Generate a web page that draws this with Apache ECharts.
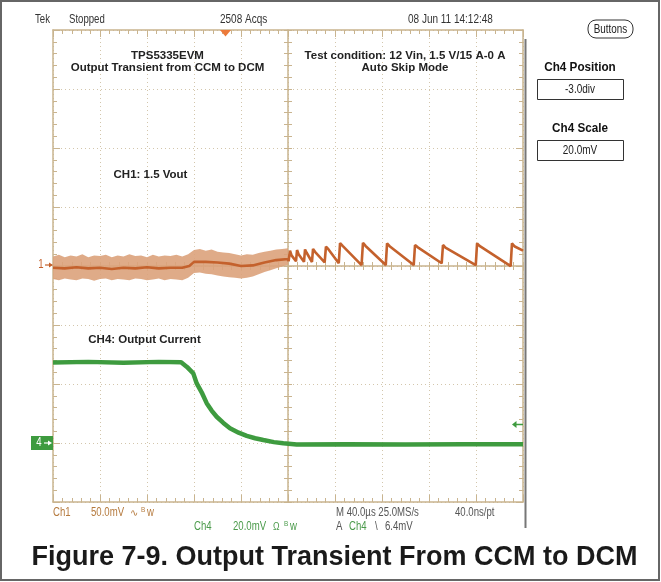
<!DOCTYPE html>
<html><head><meta charset="utf-8">
<script src="https://cdn.jsdelivr.net/npm/echarts@6/dist/echarts.min.js"></script>
<style>html,body{margin:0;padding:0;background:#fff}#c{width:661px;height:582px}</style>
</head><body><div id="c"></div>
<script>
// ---- Data (time in µs, values in mV) ----
const ch1ScaleMv = 50;     // mV/div
const ch1PosDiv = 0;
const ch4ScaleMv = 20;     // mV/div
const ch4PosDiv = -3;

// noise envelope of CH1 in the CCM part (every 5 µs)
const envTime  = [-200,-195,-190,-185,-180,-175,-170,-165,-160,-155,-150,-145,-140,-135,-130,-125,-120,-115,-110,-105,-100,-95,-90,-85,-80,-75,-70,-65,-60,-55,-50,-45,-40,-35,-30,-25,-20,-15,-10,-5,0];
const ch1Upper = [8,9.5,7.5,9,8,10,7.5,9,8.5,9.5,7.5,9,8,10,8.5,9,7.5,9.5,8,9,8.5,9.5,8,10,13.5,14.5,13,14,12,11.5,11,10,9,10,9.5,11,12,13,14,14.5,15];
const ch1Lower = [-11,-12,-10.5,-11.5,-12,-10.5,-11,-12.5,-11,-10.5,-12,-11,-11.5,-12,-10.5,-11,-12,-11.5,-10.5,-12,-11,-11.5,-12,-10,-6,-5.5,-6.5,-7,-8,-9,-9.5,-10,-10.5,-10,-9,-7,-5,-3.5,-2,-0.5,1];

// CH1 core trace
const ch1Core = [[-200,-1.5],[-190,-2],[-180,-1],[-170,-2],[-160,-1.5],[-150,-2.5],[-140,-1.5],[-130,-2],[-120,-1],[-110,-2],[-100,-1.5],[-90,-1.5],[-84,0],[-80,3.5],[-70,3.5],[-60,3],[-50,2],[-40,0],[-30,0.5],[-20,3],[-10,5],[0,6]];
// CH1 skip-mode ripple
const ch1Ripple = [[0.5,4],[1.7,13],[3,9],[6.8,4],[7.7,13.5],[9,10],[13.6,3.5],[14.5,14],[16,11],[20.4,3.4],[21.3,14.5],[23,12],[31.2,3],[32.3,16.5],[34.5,14],[43.2,2.3],[44.3,19.5],[46.5,17],[62.6,0.8],[63.8,19.7],[66,17],[83.2,0.8],[84.3,19.2],[86.5,16.8],[107,0.8],[108.1,17.8],[110.5,15.8],[130.8,2.3],[131.9,17.8],[134,15.5],[159.8,0.8],[160.9,19.2],[163,17],[189.5,-0.1],[190.6,19.2],[193,16.5],[200,13]];

// CH4 output current (mV across sense)
const ch4Trace = [[-200,27.3],[-170,27.5],[-140,27.2],[-110,27.5],[-91,27.4],[-86,25.8],[-80.6,23.6],[-77.7,20.2],[-73,16.8],[-69.2,13.5],[-65,11],[-60.7,8.9],[-55,6.8],[-49.4,5.0],[-42,3.5],[-35.1,2.4],[-28,1.6],[-21,1.0],[-12,0.3],[-4,-0.1],[7.4,-0.5],[50,-0.4],[100,-0.5],[150,-0.4],[200,-0.4]];

const xTickInterval = 40;  // µs/div
const yTickInterval = 1;   // div

// ---- Styles ----
const TAN = '#c9b48f';
const DOT = '#d3c6ac';
const C1 = '#c4612c';
const C1BAND = '#dca27b';
const C4 = '#3e9b3f';

const toDiv = (mv, s, p) => mv / s + p;

function xA(grid, pos, o) {
  return Object.assign({
    type: 'value', gridIndex: grid, position: pos, min: -200, max: 200, interval: xTickInterval,
    axisLabel: {show: false}, splitLine: {show: false},
    axisLine: {show: true, onZero: false, lineStyle: {color: TAN, width: 1.5}},
    axisTick: {show: true, inside: true, length: 7, lineStyle: {color: TAN, width: 1}},
    minorTick: {show: true, splitNumber: 5, length: 4, lineStyle: {color: TAN, width: 1}}
  }, o || {});
}
function yA(grid, pos, o) {
  return Object.assign({
    type: 'value', gridIndex: grid, position: pos, min: -4, max: 4, interval: yTickInterval,
    axisLabel: {show: false}, splitLine: {show: false},
    axisLine: {show: true, onZero: false, lineStyle: {color: TAN, width: 1.5}},
    axisTick: {show: true, inside: true, length: 7, lineStyle: {color: TAN, width: 1}},
    minorTick: {show: true, splitNumber: 5, length: 4, lineStyle: {color: TAN, width: 1}}
  }, o || {});
}

const NARROW = 'Liberation Sans, Arial, sans-serif';
function T(text, x, y, o) {
  o = o || {};
  return {
    type: 'text', x: x, y: y, scaleX: o.sx == null ? 0.8 : o.sx, z: 100,
    style: {
      text: text, fill: o.fill || '#333', font: o.font || ('12px ' + NARROW),
      textAlign: o.align || 'left', align: o.align || 'left',
      textVerticalAlign: 'middle', verticalAlign: 'middle'
    }
  };
}
const BOLD = (s) => 'bold ' + s + 'px Liberation Sans, Arial, sans-serif';

const graphics = [
  {type: 'rect', shape: {x: 1, y: 1, width: 658, height: 579}, style: {fill: 'none', stroke: '#666', lineWidth: 2}, z: 100},
  {type: 'line', shape: {x1: 525.5, y1: 39, x2: 525.5, y2: 528}, style: {stroke: '#777', lineWidth: 2}, z: 100},
  // header
  T('Tek', 35, 20),
  T('Stopped', 69, 20),
  T('2508 Acqs', 220, 20, {font: '12.5px ' + NARROW}),
  T('08 Jun 11 14:12:48', 408, 20, {font: '12.5px ' + NARROW}),
  {type: 'rect', shape: {x: 588, y: 20, width: 45, height: 18, r: 8}, style: {fill: '#fff', stroke: '#333', lineWidth: 1}, z: 100},
  T('Buttons', 610.5, 29.5, {align: 'center', font: '13px ' + NARROW, fill: '#222', sx: 0.76}),
  // side panel
  T('Ch4 Position', 580, 67, {align: 'center', font: BOLD(13), fill: '#111', sx: 0.9}),
  {type: 'rect', shape: {x: 537.5, y: 79.5, width: 86, height: 20}, style: {fill: '#fff', stroke: '#333', lineWidth: 1}, z: 100},
  T('-3.0div', 580, 89.5, {align: 'center', font: '12.5px ' + NARROW, fill: '#222'}),
  T('Ch4 Scale', 580, 128, {align: 'center', font: BOLD(13), fill: '#111', sx: 0.9}),
  {type: 'rect', shape: {x: 537.5, y: 140.5, width: 86, height: 20}, style: {fill: '#fff', stroke: '#333', lineWidth: 1}, z: 100},
  T('20.0mV', 580, 150.5, {align: 'center', font: '12.5px ' + NARROW, fill: '#222'}),
  // annotations in plot
  T('TPS5335EVM', 167.5, 55.5, {align: 'center', font: BOLD(11.5), fill: '#222', sx: 1}),
  T('Output Transient from CCM to DCM', 167.5, 68, {align: 'center', font: BOLD(11.5), fill: '#222', sx: 1}),
  T('Test condition: 12 Vin, 1.5 V/15 A-0 A', 405, 55.5, {align: 'center', font: BOLD(11.5), fill: '#222', sx: 1}),
  T('Auto Skip Mode', 405, 68, {align: 'center', font: BOLD(11.5), fill: '#222', sx: 1}),
  T('CH1: 1.5 Vout', 150.5, 175, {align: 'center', font: BOLD(11.5), fill: '#222', sx: 1}),
  T('CH4: Output Current', 144.5, 340, {align: 'center', font: BOLD(11.5), fill: '#222', sx: 1}),
  // channel markers
  T('1', 41, 264.5, {align: 'center', font: '12px ' + NARROW, fill: C1}),
  {type: 'line', shape: {x1: 45, y1: 265, x2: 52, y2: 265}, style: {stroke: C1, lineWidth: 1.2}, z: 100},
  {type: 'polygon', shape: {points: [[53, 265], [49, 262.5], [49, 267.5]]}, style: {fill: C1}, z: 100},
  {type: 'rect', shape: {x: 31, y: 436, width: 22, height: 14}, style: {fill: C4}, z: 100},
  T('4', 39, 443, {align: 'center', font: '12px ' + NARROW, fill: '#fff'}),
  {type: 'line', shape: {x1: 44, y1: 443, x2: 50, y2: 443}, style: {stroke: '#fff', lineWidth: 1.2}, z: 101},
  {type: 'polygon', shape: {points: [[52, 443], [48, 440.5], [48, 445.5]]}, style: {fill: '#fff'}, z: 101},
  // trigger markers
  {type: 'polygon', shape: {points: [[220, 30], [231, 30], [225.5, 36.5]]}, style: {fill: '#ec7a3a'}, z: 100},
  {type: 'line', shape: {x1: 515, y1: 424.5, x2: 523, y2: 424.5}, style: {stroke: C4, lineWidth: 1.5}, z: 100},
  {type: 'polygon', shape: {points: [[512, 424.5], [516.5, 421], [516.5, 428]]}, style: {fill: C4}, z: 100},
  // bottom status
  T('Ch1', 53, 513, {fill: '#b57a3e'}),
  T('50.0mV', 91, 513, {fill: '#b57a3e'}),
  T('\u223F', 130, 513, {fill: '#b57a3e', font: '10px DejaVu Sans, sans-serif', sx: 1}),
  T('B', 141, 510, {fill: '#b57a3e', font: '8px ' + NARROW}),
  T('w', 147, 513, {fill: '#b57a3e'}),
  T('M 40.0\u00B5s 25.0MS/s', 336, 513, {fill: '#555'}),
  T('40.0ns/pt', 455, 513, {fill: '#555'}),
  T('Ch4', 194, 527, {fill: '#4a9a4a'}),
  T('20.0mV', 233, 527, {fill: '#4a9a4a'}),
  T('\u03A9', 273, 527, {fill: '#4a9a4a', font: '11px ' + NARROW}),
  T('B', 284, 524, {fill: '#4a9a4a', font: '8px ' + NARROW}),
  T('w', 290, 527, {fill: '#4a9a4a'}),
  T('A', 336, 527, {fill: '#555'}),
  T('Ch4', 349, 527, {fill: '#4a9a4a'}),
  T('\\', 375, 527, {fill: '#555'}),
  T('6.4mV', 385, 527, {fill: '#555'}),
  // caption
  T('Figure 7-9. Output Transient From CCM to DCM', 334.5, 557.5, {align: 'center', font: BOLD(27), fill: '#1a1a1a', sx: 1})
];

const G = {left: 53, top: 30, width: 470, height: 472};
const option = {
  animation: false,
  backgroundColor: '#fff',
  grid: [
    Object.assign({}, G),
    {left: 53, top: 30, width: 470, height: 236},
    {left: 53, top: 266, width: 470, height: 236},
    {left: 53, top: 30, width: 235, height: 472},
    {left: 288, top: 30, width: 235, height: 472}
  ],
  xAxis: [
    xA(0, 'bottom', {splitLine: {show: true, lineStyle: {color: DOT, type: [1, 3], width: 1}}}),
    xA(0, 'top'),
    xA(1, 'bottom', {axisTick: {show: true, inside: true, length: 4, lineStyle: {color: TAN}}}),
    xA(2, 'top', {axisLine: {show: false, onZero: false}, axisTick: {show: true, inside: true, length: 4, lineStyle: {color: TAN}}}),
    {type: 'value', gridIndex: 3, min: -200, max: 200, show: false},
    {type: 'value', gridIndex: 4, min: -200, max: 200, show: false}
  ],
  yAxis: [
    yA(0, 'left', {splitLine: {show: true, lineStyle: {color: DOT, type: [1, 3], width: 1}}}),
    yA(0, 'right'),
    {type: 'value', gridIndex: 1, min: 0, max: 1, show: false},
    {type: 'value', gridIndex: 2, min: 0, max: 1, show: false},
    yA(3, 'right', {axisTick: {show: true, inside: true, length: 4, lineStyle: {color: TAN}}}),
    yA(4, 'left', {axisLine: {show: false, onZero: false}, axisTick: {show: true, inside: true, length: 4, lineStyle: {color: TAN}}})
  ],
  series: [
    {
      type: 'custom', xAxisIndex: 0, yAxisIndex: 0, silent: true, clip: true,
      data: [[0, 0]],
      renderItem: function (params, api) {
        const pts = [];
        for (let i = 0; i < envTime.length; i++) {
          pts.push(api.coord([envTime[i], toDiv(ch1Upper[i], ch1ScaleMv, ch1PosDiv)]));
        }
        for (let i = envTime.length - 1; i >= 0; i--) {
          pts.push(api.coord([envTime[i], toDiv(ch1Lower[i], ch1ScaleMv, ch1PosDiv)]));
        }
        return {type: 'polygon', shape: {points: pts}, style: {fill: C1BAND, opacity: 0.9}};
      }
    },
    {
      type: 'line', xAxisIndex: 0, yAxisIndex: 0, symbol: 'none', silent: true,
      lineStyle: {color: C1, width: 2.6},
      data: ch1Core.concat(ch1Ripple).map(p => [p[0], toDiv(p[1], ch1ScaleMv, ch1PosDiv)])
    },
    {
      type: 'line', xAxisIndex: 0, yAxisIndex: 0, symbol: 'none', silent: true,
      lineStyle: {color: C4, width: 4.5},
      data: ch4Trace.map(p => [p[0], toDiv(p[1], ch4ScaleMv, ch4PosDiv)])
    }
  ],
  graphic: {elements: graphics}
};
const chart = echarts.init(document.getElementById('c'));
chart.setOption(option);
</script>
</body></html>
